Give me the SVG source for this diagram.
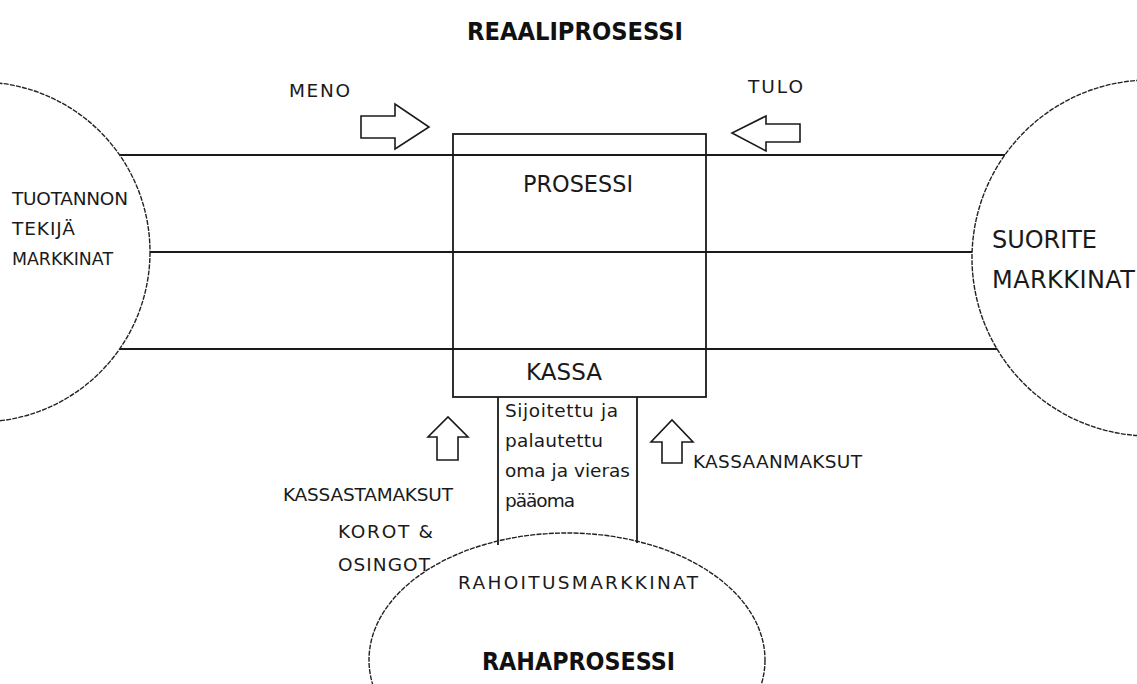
<svg xmlns="http://www.w3.org/2000/svg" width="1137" height="684" viewBox="0 0 1137 684">
<style>
  .bg{fill:#ffffff}
  .mkt{fill:none;stroke:#222;stroke-width:1.4;stroke-dasharray:5 1.2}
  .ln{stroke:#1a1a1a;stroke-width:1.8;fill:none}
  .box{fill:none;stroke:#1a1a1a;stroke-width:1.8}
  .arr{fill:#fff;stroke:#1a1a1a;stroke-width:1.6;stroke-linejoin:miter}
  .t{font-family:"DejaVu Sans","Liberation Sans",sans-serif;fill:#1a1a1a}
  .s{font-size:18.5px}
  .m{font-size:23px}
  .l{font-size:24px}
  .b{font-size:24px;font-weight:bold;fill:#111}
</style>
<rect class="bg" x="0" y="0" width="1137" height="684"/>

<text id="title-real" class="t b" x="467" y="40" textLength="216" lengthAdjust="spacingAndGlyphs">REAALIPROSESSI</text>

<g id="connectors">
  <line class="ln" x1="119.6" y1="155" x2="1005" y2="155"/>
  <line class="ln" x1="150" y1="252" x2="972" y2="252"/>
  <line class="ln" x1="119.6" y1="349" x2="997" y2="349"/>
  <line class="ln" x1="498" y1="397" x2="498" y2="545"/>
  <line class="ln" x1="637" y1="397" x2="637" y2="543"/>
</g>

<g id="tuotannontekija-markkinat">
  <circle class="mkt" cx="-20" cy="252" r="170"/>
  <text class="t s" x="12" y="205" textLength="116">TUOTANNON</text>
  <text class="t s" x="12" y="235" textLength="63">TEKIJÄ</text>
  <text class="t s" x="12" y="265" textLength="101" lengthAdjust="spacingAndGlyphs">MARKKINAT</text>
</g>

<g id="suorite-markkinat">
  <circle class="mkt" cx="1150" cy="258" r="178"/>
  <text class="t l" x="992" y="248" textLength="105">SUORITE</text>
  <text class="t l" x="992" y="288" textLength="143">MARKKINAT</text>
</g>

<g id="rahoitusmarkkinat">
  <ellipse class="mkt" cx="567" cy="660" rx="198" ry="127"/>
  <text class="t s" x="458" y="589" textLength="240">RAHOITUSMARKKINAT</text>
  <text class="t b" x="482" y="670" textLength="193" lengthAdjust="spacingAndGlyphs">RAHAPROSESSI</text>
</g>

<g id="prosessi">
  <rect class="box" x="453" y="134" width="253" height="263"/>
  <text class="t m" x="523" y="192" textLength="110" lengthAdjust="spacingAndGlyphs">PROSESSI</text>
  <text class="t m" x="526" y="380" textLength="76">KASSA</text>
</g>

<g id="paaoma">
  <text class="t s" x="505" y="417" textLength="113">Sijoitettu ja</text>
  <text class="t s" x="505" y="447" textLength="98">palautettu</text>
  <text class="t s" x="505" y="477" textLength="125">oma ja vieras</text>
  <text class="t s" x="505" y="507" textLength="70">pääoma</text>
</g>

<g id="meno">
  <polygon class="arr" points="361,116 395,116 395,104 429,127 395,149 395,138 361,138"/>
  <text class="t s" x="289" y="97" textLength="61">MENO</text>
</g>

<g id="tulo">
  <polygon class="arr" points="800,124 766,124 766,116 732,133 766,151 766,142 800,142"/>
  <text class="t s" x="748" y="93" textLength="55">TULO</text>
</g>

<g id="kassastamaksut">
  <polygon class="arr" points="437,460 437,437 428,437 448,417 468,437 458,437 458,460"/>
  <text class="t s" x="283" y="501" textLength="170">KASSASTAMAKSUT</text>
  <text class="t s" x="338" y="538" textLength="95">KOROT &amp;</text>
  <text class="t s" x="338" y="571" textLength="92">OSINGOT</text>
</g>

<g id="kassaanmaksut">
  <polygon class="arr" points="662,463 662,442 651,442 672,420 693,442 682,442 682,463"/>
  <text class="t s" x="693" y="468" textLength="169">KASSAANMAKSUT</text>
</g>
</svg>
